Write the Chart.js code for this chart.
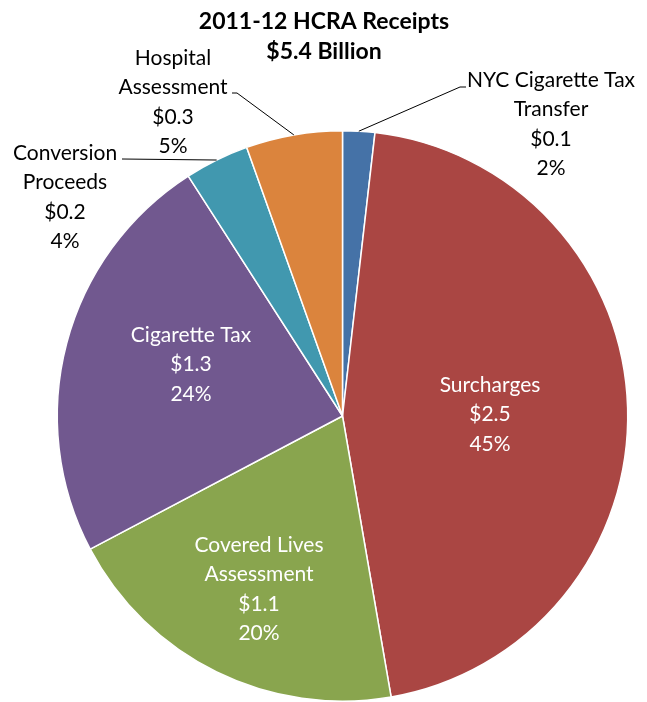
<!DOCTYPE html>
<html>
<head>
<meta charset="utf-8">
<title>2011-12 HCRA Receipts</title>
<script src="https://cdn.jsdelivr.net/npm/chart.js@4/dist/chart.umd.min.js"></script>
<style>
  html, body { margin: 0; padding: 0; background: #ffffff; }
  #wrap { width: 647px; height: 702px; }
</style>
</head>
<body>
<div id="wrap"><canvas id="pie" width="647" height="702"></canvas></div>
<script>
// HCRA receipts by source, 2011-12 (billions of dollars)
const categories = [
  'NYC Cigarette Tax Transfer',
  'Surcharges',
  'Covered Lives Assessment',
  'Cigarette Tax',
  'Conversion Proceeds',
  'Hospital Assessment'
];
const receipts = [0.1, 2.5, 1.1, 1.3, 0.2, 0.3];
const labelLines = [
  ['NYC Cigarette Tax', 'Transfer'],
  ['Surcharges'],
  ['Covered Lives', 'Assessment'],
  ['Cigarette Tax'],
  ['Conversion', 'Proceeds'],
  ['Hospital', 'Assessment']
];
const titleLines = ['2011-12 HCRA Receipts', '$5.4 Billion'];
const sliceColors = ['#4572A7', '#AA4643', '#89A54E', '#71588F', '#4198AF', '#DB843D'];

// Where each data label sits (first line centre) and its leader-line bends
const labelPlacement = [
  { x: 551, y: 80, color: '#000000', leader: [[460, 87], [466, 87]] },
  { x: 490, y: 385, color: '#ffffff' },
  { x: 259, y: 545, color: '#ffffff' },
  { x: 191, y: 335, color: '#ffffff' },
  { x: 65,  y: 153, color: '#000000', leader: [[122, 159]] },
  { x: 173, y: 58,  color: '#000000', leader: [[237, 93], [232, 93]] }
];

const FONT = 'Lato, "Open Sans", "Noto Sans", sans-serif';
const LINE_H = 29.5;

const labelPlugin = {
  id: 'sliceLabels',
  afterDatasetsDraw(chart) {
    const ctx = chart.ctx;
    const meta = chart.getDatasetMeta(0);
    const data = chart.data.datasets[0].data;
    const total = data.reduce((a, b) => a + b, 0);
    ctx.save();
    // leader lines
    meta.data.forEach((arc, i) => {
      const p = labelPlacement[i];
      if (!p.leader) return;
      const mid = (arc.startAngle + arc.endAngle) / 2;
      const sx = arc.x + Math.cos(mid) * arc.outerRadius;
      const sy = arc.y + Math.sin(mid) * arc.outerRadius;
      ctx.beginPath();
      ctx.moveTo(sx, sy);
      p.leader.forEach(pt => ctx.lineTo(pt[0], pt[1]));
      ctx.strokeStyle = '#000000';
      ctx.lineWidth = 1;
      ctx.stroke();
    });
    // label text
    ctx.font = '21px ' + FONT;
    ctx.textAlign = 'center';
    ctx.textBaseline = 'middle';
    meta.data.forEach((arc, i) => {
      const p = labelPlacement[i];
      const lines = labelLines[i].concat([
        '$' + data[i].toFixed(1),
        Math.round(data[i] / total * 100) + '%'
      ]);
      ctx.fillStyle = p.color;
      lines.forEach((t, k) => ctx.fillText(t, p.x, p.y + k * LINE_H));
    });
    // chart title
    ctx.fillStyle = '#000000';
    ctx.font = 'bold 23px ' + FONT;
    titleLines.forEach((t, k) => ctx.fillText(t, 324, 22 + k * 30));
    ctx.restore();
  }
};

new Chart(document.getElementById('pie'), {
  type: 'pie',
  data: {
    labels: categories,
    datasets: [{
      data: receipts,
      backgroundColor: sliceColors,
      borderColor: '#ffffff',
      borderWidth: 1.5
    }]
  },
  options: {
    responsive: false,
    animation: false,
    layout: { padding: { left: 55, right: 17, top: 130, bottom: -2 } },
    plugins: {
      legend: { display: false },
      tooltip: { enabled: false },
      title: { display: false }
    }
  },
  plugins: [labelPlugin]
});
</script>
</body>
</html>
